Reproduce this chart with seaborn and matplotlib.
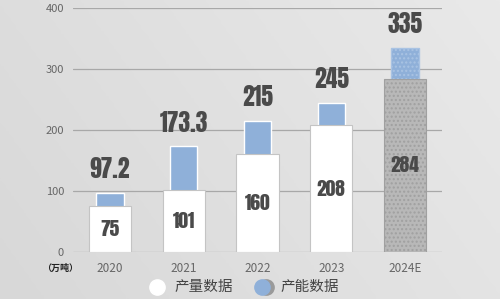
import matplotlib
matplotlib.use("Agg")
import matplotlib.pyplot as plt
import seaborn as sns
import pandas as pd
import numpy as np
from matplotlib.lines import Line2D
from matplotlib.colors import LinearSegmentedColormap

years = ["2020", "2021", "2022", "2023", "2024E"]
production = [75, 101, 160, 208, 284]
capacity = [97.2, 173.3, 215, 245, 335]
yticks = [0, 100, 200, 300, 400]
legend_labels = ["产量数据", "产能数据"]

df = pd.DataFrame({"year": years, "production": production, "capacity": capacity})

sns.set_theme(style="white")
plt.rcParams["font.family"] = ["Noto Sans CJK SC", "DejaVu Sans"]

bg = "#e0e0e0"
blue = "#8fb0d9"
fig = plt.figure(figsize=(5.0, 2.99), dpi=100, facecolor=bg)

# subtle background gradient (darker lower-left, lighter upper-right)
bgax = fig.add_axes([0, 0, 1, 1], zorder=-10)
gx, gy = np.meshgrid(np.linspace(0, 1, 200), np.linspace(0, 1, 120))
cmap = LinearSegmentedColormap.from_list("bg", ["#d8d8d8", "#e9e9e9"])
bgax.imshow(0.7 * gx + 0.3 * gy, cmap=cmap, origin="lower", aspect="auto",
            extent=[0, 1, 0, 1])
bgax.axis("off")

ax = fig.add_axes([0.146, 0.157, 0.738, 0.816])
ax.patch.set_alpha(0)

for v in yticks:
    ax.axhline(v, color="#a8a8a8", lw=0.9, zorder=0)

sns.barplot(data=df, x="year", y="capacity", color=blue, width=0.37,
            saturation=1, ax=ax, zorder=2)
sns.barplot(data=df, x="year", y="production", color="white", width=0.57,
            saturation=1, ax=ax, zorder=3, edgecolor="#c4c4c4", linewidth=0.8)

patches = ax.patches
prod_patches = patches[len(years):]
prod_patches[-1].set_facecolor("#b8b8b8")
prod_patches[-1].set_hatch("....")
prod_patches[-1].set_edgecolor("#a0a0a0")
patches[len(years) - 1].set_hatch("....")
patches[len(years) - 1].set_edgecolor("#a9c3e3")

numfam = ["Anton", "Oswald", "Fjalla One", "Bebas Neue", "DejaVu Sans"]
for i, (p, c) in enumerate(zip(production, capacity)):
    ax.text(i, c + 19, f"{c:g}", ha="center", va="bottom", fontsize=17,
            family=numfam, color="#4a4a4a", zorder=5)
    ax.text(i, p / 2, f"{p:g}", ha="center", va="center", fontsize=14,
            family=numfam, color="#4a4a4a", zorder=5)

ax.set_ylim(0, 400)
ax.set_xlim(-0.5, len(years) - 0.5)
ax.set_yticks(yticks)
ax.set_yticklabels([str(v) for v in yticks])
ax.tick_params(axis="y", labelsize=8, colors="#666666", length=0, pad=6.5)
ax.tick_params(axis="x", labelsize=8.5, colors="#666666", length=0, pad=7)
ax.set_xlabel("")
ax.set_ylabel("")
for s in ax.spines.values():
    s.set_visible(False)

fig.text(0.12, 0.103, "（万吨）", fontsize=6.5, color="#222222", ha="center", va="center",
         fontweight="bold")

# legend drawn in figure coordinates
ly = 1 - 287 / 299
fig.add_artist(Line2D([157 / 500], [ly], marker="o", markersize=11, color="white",
                      markeredgecolor="white", transform=fig.transFigure))
fig.text(174 / 500, ly, legend_labels[0], fontsize=10.5, color="#444444", va="center", ha="left")
fig.add_artist(Line2D([266 / 500], [ly], marker="o", markersize=11, color="#9a9a9a",
                      markeredgecolor="#9a9a9a", transform=fig.transFigure))
fig.add_artist(Line2D([262 / 500], [ly], marker="o", markersize=11, color=blue,
                      markeredgecolor=blue, transform=fig.transFigure))
fig.text(280 / 500, ly, legend_labels[1], fontsize=10.5, color="#444444", va="center", ha="left")

fig.savefig("out.png", dpi=100, facecolor=bg)
